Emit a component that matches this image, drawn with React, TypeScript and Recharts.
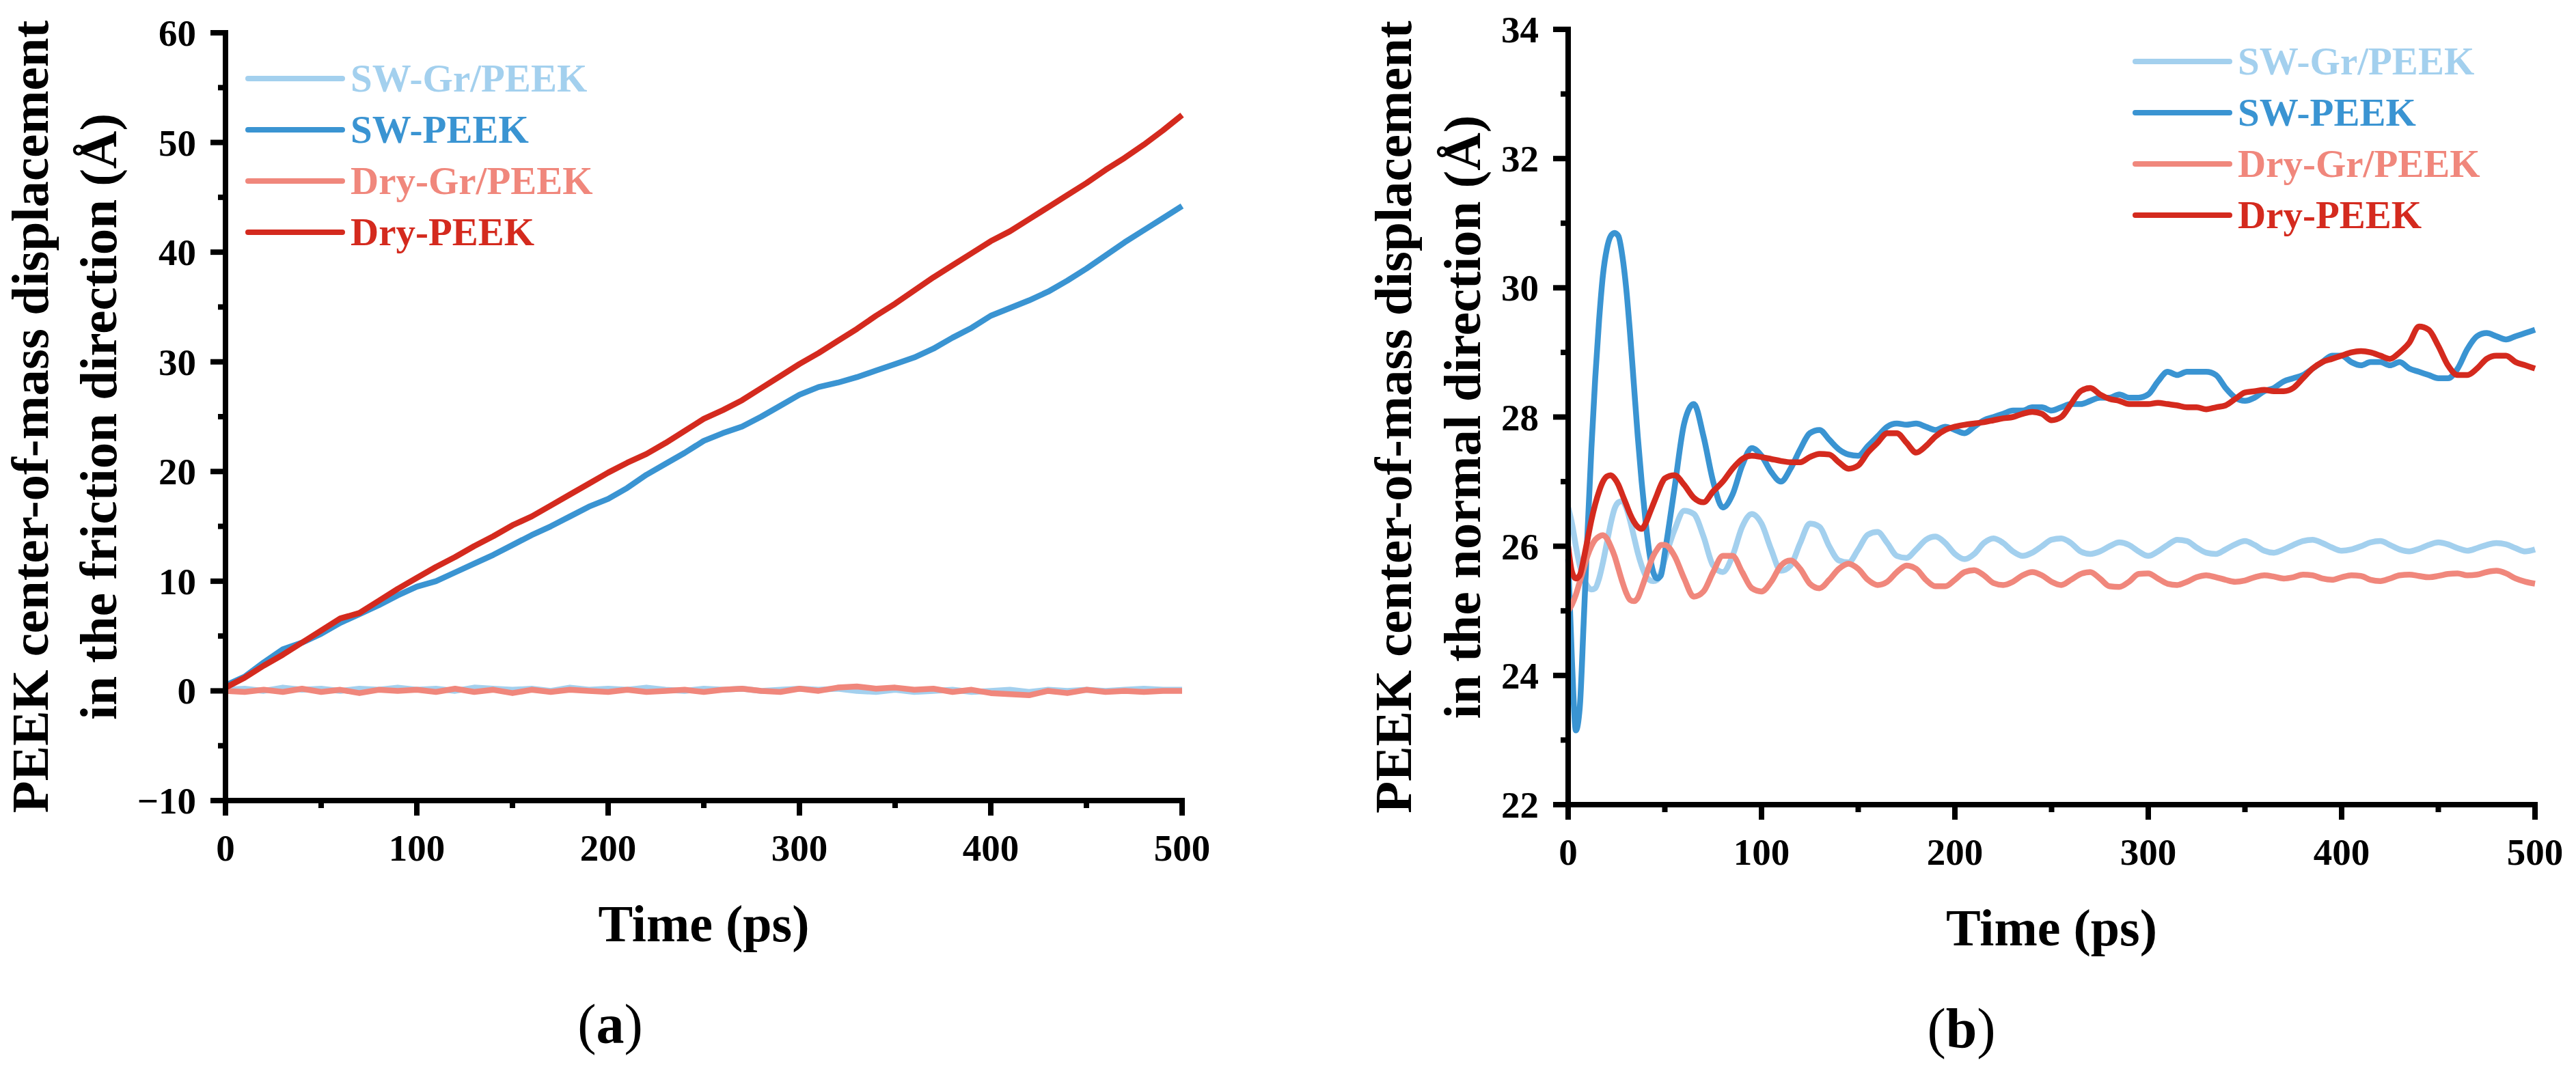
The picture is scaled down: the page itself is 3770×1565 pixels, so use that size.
import React from 'react';
import { LineChart, Line, XAxis, YAxis, Legend } from 'recharts';

// ---------- Panel (a): friction direction ----------
const timeA = [0,10,20,30,40,50,60,70,80,90,100,110,120,130,140,150,160,170,180,190,200,210,220,230,240,250,260,270,280,290,300,310,320,330,340,350,360,370,380,390,400,410,420,430,440,450,460,470,480,490,500];
const swGrA = [0.1,0.2,0.0,0.3,0.1,0.2,0.0,0.2,0.1,0.3,0.1,0.2,0.0,0.3,0.2,0.1,0.2,0.0,0.3,0.1,0.2,0.1,0.3,0.1,0.0,0.2,0.1,0.2,0.0,0.1,0.2,0.1,0.2,0.0,-0.1,0.1,-0.1,0.0,0.1,-0.1,0.0,0.1,-0.1,0.1,0.0,0.1,0.0,0.1,0.2,0.1,0.1];
const swA = [0.5,1.3,2.6,3.8,4.4,5.2,6.2,7.0,7.8,8.7,9.5,10.0,10.8,11.6,12.4,13.3,14.2,15.0,15.9,16.8,17.5,18.5,19.7,20.7,21.7,22.8,23.5,24.1,25.0,26.0,27.0,27.7,28.1,28.6,29.2,29.8,30.4,31.2,32.2,33.1,34.2,34.9,35.6,36.4,37.4,38.5,39.7,40.9,42.0,43.1,44.2];
const dryGrA = [0.0,-0.1,0.1,-0.1,0.2,-0.1,0.1,-0.2,0.1,0.0,0.1,-0.1,0.2,-0.1,0.1,-0.2,0.1,-0.1,0.1,0.0,-0.1,0.1,-0.1,0.0,0.1,-0.1,0.1,0.2,0.0,-0.1,0.2,0.0,0.3,0.4,0.2,0.3,0.1,0.2,-0.1,0.1,-0.2,-0.3,-0.4,0.0,-0.2,0.1,-0.1,0.0,-0.1,0.0,0.0];
const dryA = [0.3,1.2,2.3,3.3,4.4,5.5,6.6,7.1,8.2,9.3,10.3,11.3,12.2,13.2,14.1,15.1,15.9,16.9,17.9,18.9,19.9,20.8,21.6,22.6,23.7,24.8,25.6,26.5,27.6,28.7,29.8,30.8,31.9,33.0,34.2,35.3,36.5,37.7,38.8,39.9,41.0,41.9,43.0,44.1,45.2,46.3,47.5,48.6,49.8,51.1,52.5];
const xTicks = [0,50,100,150,200,250,300,350,400,450,500];
const xMajor = [0,100,200,300,400,500];
const yTicksA = [-10,-5,0,5,10,15,20,25,30,35,40,45,50,55,60];
const yMajorA = [-10,0,10,20,30,40,50,60];

// ---------- Panel (b): normal direction ----------
const timeB = [0,2,4,6,8,10,12,14,16,18,20,22,24,26,28,30,32,34,36,38,40,42,44,46,48,50,55,60,65,70,75,80,85,90,95,100,105,110,115,120,125,130,135,140,145,150,155,160,165,170,175,180,185,190,195,200,205,210,215,220,225,230,235,240,245,250,255,260,265,270,275,280,285,290,295,300,305,310,315,320,325,330,335,340,345,350,355,360,365,370,375,380,385,390,395,400,405,410,415,420,425,430,435,440,445,450,455,460,465,470,475,480,485,490,495,500];
const swGrB = [26.6,26.35,26.0,25.7,25.5,25.38,25.33,25.35,25.5,25.75,26.05,26.35,26.58,26.68,26.7,26.6,26.4,26.15,25.9,25.7,25.55,25.48,25.46,25.48,25.6,25.8,26.25,26.55,26.5,26.15,25.7,25.6,25.85,26.3,26.5,26.35,25.95,25.62,25.7,26.05,26.35,26.3,26.0,25.78,25.75,25.95,26.18,26.22,26.05,25.85,25.82,25.95,26.1,26.15,26.05,25.88,25.8,25.88,26.05,26.12,26.05,25.92,25.85,25.9,26.0,26.1,26.12,26.05,25.92,25.88,25.92,26.0,26.06,26.02,25.92,25.85,25.92,26.02,26.1,26.08,25.98,25.9,25.88,25.95,26.03,26.08,26.02,25.93,25.9,25.95,26.02,26.08,26.1,26.05,25.98,25.93,25.95,26.0,26.06,26.08,26.02,25.95,25.92,25.96,26.02,26.06,26.03,25.97,25.93,25.97,26.02,26.05,26.03,25.97,25.92,25.95];
const swB = [25.8,24.2,23.15,23.5,24.8,26.2,27.5,28.6,29.5,30.2,30.6,30.8,30.85,30.8,30.5,30.0,29.3,28.5,27.7,27.0,26.4,25.9,25.6,25.5,25.55,25.9,26.9,27.9,28.2,27.7,27.0,26.6,26.8,27.25,27.52,27.4,27.15,27.0,27.2,27.5,27.75,27.8,27.65,27.5,27.42,27.4,27.55,27.7,27.85,27.9,27.88,27.9,27.85,27.8,27.85,27.8,27.75,27.85,27.95,28.0,28.05,28.1,28.1,28.15,28.15,28.1,28.15,28.2,28.2,28.25,28.3,28.3,28.35,28.3,28.3,28.35,28.55,28.7,28.65,28.7,28.7,28.7,28.65,28.45,28.3,28.25,28.3,28.4,28.45,28.55,28.6,28.65,28.75,28.85,28.95,28.95,28.85,28.8,28.85,28.85,28.8,28.85,28.75,28.7,28.65,28.6,28.6,28.75,29.05,29.25,29.3,29.25,29.2,29.25,29.3,29.35];
const dryGrB = [25.0,25.1,25.25,25.45,25.65,25.85,26.0,26.1,26.15,26.17,26.12,26.0,25.85,25.65,25.45,25.28,25.17,25.15,25.2,25.35,25.52,25.7,25.85,25.95,26.02,26.02,25.85,25.5,25.22,25.3,25.6,25.85,25.85,25.6,25.35,25.3,25.45,25.7,25.78,25.65,25.42,25.35,25.48,25.65,25.73,25.65,25.48,25.4,25.45,25.6,25.7,25.65,25.48,25.38,25.38,25.48,25.6,25.63,25.55,25.43,25.4,25.45,25.55,25.6,25.55,25.45,25.4,25.48,25.57,25.6,25.5,25.38,25.37,25.45,25.57,25.58,25.5,25.42,25.4,25.45,25.52,25.55,25.52,25.48,25.45,25.47,25.52,25.55,25.53,25.5,25.52,25.56,25.55,25.5,25.48,25.52,25.55,25.54,25.48,25.46,25.5,25.55,25.56,25.54,25.52,25.54,25.57,25.58,25.55,25.56,25.6,25.62,25.58,25.5,25.45,25.42];
const dryB = [26.0,25.6,25.5,25.55,25.8,26.1,26.4,26.65,26.85,27.0,27.08,27.1,27.05,26.95,26.8,26.65,26.5,26.38,26.3,26.27,26.35,26.5,26.65,26.8,26.95,27.05,27.1,26.95,26.75,26.68,26.85,27.0,27.2,27.35,27.4,27.38,27.35,27.32,27.3,27.3,27.38,27.43,27.42,27.3,27.2,27.25,27.45,27.6,27.75,27.75,27.6,27.45,27.55,27.7,27.8,27.85,27.88,27.9,27.92,27.95,27.98,28.0,28.05,28.08,28.05,27.95,28.0,28.2,28.4,28.45,28.35,28.28,28.25,28.2,28.2,28.2,28.22,28.2,28.18,28.15,28.15,28.12,28.15,28.18,28.28,28.38,28.4,28.42,28.4,28.4,28.45,28.6,28.75,28.85,28.9,28.95,29.0,29.02,29.0,28.95,28.9,29.0,29.15,29.4,29.35,29.1,28.8,28.65,28.65,28.75,28.9,28.95,28.95,28.85,28.8,28.75];
const yTicksB = [22,23,24,25,26,27,28,29,30,31,32,33,34];
const yMajorB = [22,24,26,28,30,32,34];

const seriesNames = ['SW-Gr/PEEK', 'SW-PEEK', 'Dry-Gr/PEEK', 'Dry-PEEK'];
const seriesKeys = ['swGr', 'sw', 'dryGr', 'dry'];
const seriesColors = ['#a3d0ee', '#3a94d2', '#f0877c', '#d42a1e'];

const FONT = "'Times New Roman', 'Liberation Serif', serif";

const rowsA = timeA.map((t, i) => ({ t, swGr: swGrA[i], sw: swA[i], dryGr: dryGrA[i], dry: dryA[i] }));
const rowsB = timeB.map((t, i) => ({ t, swGr: swGrB[i], sw: swB[i], dryGr: dryGrB[i], dry: dryB[i] }));

const fmt = (v: number) => (v < 0 ? '\u2212' + Math.abs(v) : String(v));

const makeXTick = (majors: number[]) => (props: any) => {
  const { x, y, payload } = props;
  const major = majors.includes(payload.value);
  return (
    <g>
      <line x1={x} x2={x} y1={y} y2={y + (major ? 22 : 11)} stroke="#000" strokeWidth={8} />
      {major && (
        <text x={x} y={y + 88} textAnchor="middle" fontFamily={FONT} fontWeight="bold" fontSize={55} fill="#000">
          {fmt(payload.value)}
        </text>
      )}
    </g>
  );
};

const makeYTick = (majors: number[]) => (props: any) => {
  const { x, y, payload } = props;
  const major = majors.includes(payload.value);
  return (
    <g>
      <line x1={x} x2={x - (major ? 22 : 11)} y1={y} y2={y} stroke="#000" strokeWidth={8} />
      {major && (
        <text x={x - 43} y={y + 19} textAnchor="end" fontFamily={FONT} fontWeight="bold" fontSize={55} fill="#000">
          {fmt(payload.value)}
        </text>
      )}
    </g>
  );
};

const makeYTitle = (lines: string[], offsets: number[]) => (props: any) => {
  const vb = props.viewBox;
  const axisX = vb.x + vb.width;
  const cy = vb.y + vb.height / 2;
  return (
    <g>
      {lines.map((s, i) => {
        const x = axisX - offsets[i];
        return (
          <text key={i} x={x} y={cy} transform={`rotate(-90 ${x} ${cy})`} textAnchor="middle"
            fontFamily={FONT} fontWeight="bold" fontSize={77} fill="#000">
            {s}
          </text>
        );
      })}
    </g>
  );
};

const makeXTitle = (tag: string, tagShift: number) => (props: any) => {
  const vb = props.viewBox;
  const cx = vb.x + vb.width / 2;
  return (
    <g>
      <text x={cx} y={vb.y + 206} textAnchor="middle" fontFamily={FONT} fontWeight="bold" fontSize={76} fill="#000">
        Time (ps)
      </text>
      <text x={cx + tagShift} y={vb.y + 355} textAnchor="middle" fontFamily={FONT} fontSize={82} fill="#000">
        (<tspan fontWeight="bold">{tag}</tspan>)
      </text>
    </g>
  );
};

const LegendBox = () => (
  <svg width={620} height={300} style={{ display: 'block', overflow: 'visible' }}>
    {seriesNames.map((n, i) => {
      const cy = 37 + i * 75;
      return (
        <g key={n}>
          <line x1={3} x2={141} y1={cy} y2={cy} stroke={seriesColors[i]} strokeWidth={8} strokeLinecap="round" />
          <text x={153} y={cy + 19} fontFamily={FONT} fontWeight="bold" fontSize={57} fill={seriesColors[i]}>
            {n}
          </text>
        </g>
      );
    })}
  </svg>
);

const axisLineStyle = { stroke: '#000', strokeWidth: 8, strokeLinecap: 'square' as const };

function Panel(props: {
  rows: any[]; width: number; margin: any; yWidth: number; yDomain: number[]; yTicks: number[]; yMajor: number[];
  titleLines: string[]; titleOffsets: number[]; tag: string; tagShift: number; curve: any; legendPos: any;
}) {
  const p = props;
  return (
    <LineChart width={p.width} height={1565} data={p.rows} margin={p.margin}>
      <XAxis dataKey="t" type="number" domain={[0, 500]} ticks={xTicks} interval={0} height={200}
        tickSize={0} tickMargin={0} tickLine={false} axisLine={axisLineStyle}
        tick={makeXTick(xMajor)} label={makeXTitle(p.tag, p.tagShift)} />
      <XAxis xAxisId="top" orientation="top" type="number" domain={[0, 500]} height={0}
        tick={false} tickLine={false} axisLine={axisLineStyle} />
      <YAxis type="number" domain={p.yDomain} ticks={p.yTicks} interval={0} width={p.yWidth}
        allowDataOverflow tickSize={0} tickMargin={0} tickLine={false} axisLine={axisLineStyle}
        tick={makeYTick(p.yMajor)} label={makeYTitle(p.titleLines, p.titleOffsets)} />
      <YAxis yAxisId="right" orientation="right" type="number" domain={p.yDomain} width={0}
        tick={false} tickLine={false} axisLine={axisLineStyle} />
      <Legend layout="horizontal" verticalAlign="middle" align="center"
        wrapperStyle={{ ...p.legendPos, width: 620, height: 300 }} content={() => <LegendBox />} />
      {seriesKeys.map((k, i) => (
        <Line key={k} dataKey={k} name={seriesNames[i]} type={p.curve} stroke={seriesColors[i]} strokeWidth={8.5}
          dot={false} activeDot={false} isAnimationActive={false} strokeLinejoin="round" />
      ))}
    </LineChart>
  );
}

export default function App() {
  return (
    <div style={{ position: 'relative', width: 3770, height: 1565, background: '#fff', overflow: 'hidden' }}>
      <style>{'body{margin:0;background:#fff}'}</style>
      <div style={{ position: 'absolute', left: 0, top: 0 }}>
        <Panel rows={rowsA} width={1800} margin={{ top: 48, right: 70, bottom: 193, left: 0 }} yWidth={330}
          yDomain={[-10, 60]} yTicks={yTicksA} yMajor={yMajorA}
          titleLines={['PEEK center-of-mass displacement', 'in the friction direction (\u00C5)']} titleOffsets={[260, 160]}
          tag="a" tagShift={-137} curve="linear" legendPos={{ left: 360, top: 78 }} />
      </div>
      <div style={{ position: 'absolute', left: 1900, top: 0 }}>
        <Panel rows={rowsB} width={1870} margin={{ top: 43, right: 60, bottom: 187, left: 0 }} yWidth={395}
          yDomain={[22, 34]} yTicks={yTicksB} yMajor={yMajorB}
          titleLines={['PEEK center-of-mass displacement', 'in the normal direction (\u00C5)']} titleOffsets={[230, 129]}
          tag="b" tagShift={-132} curve="monotone" legendPos={{ left: 1222, top: 53 }} />
      </div>
    </div>
  );
}
